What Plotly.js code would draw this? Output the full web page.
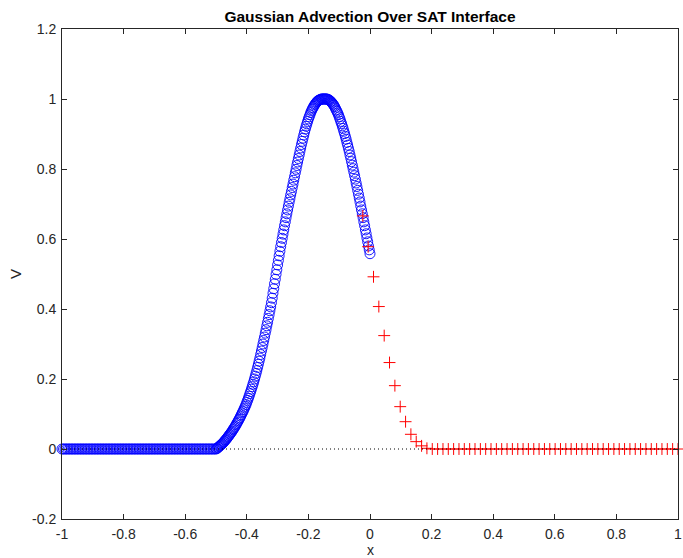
<!DOCTYPE html>
<html>
<head>
<meta charset="utf-8">
<script src="https://cdn.plot.ly/plotly-3.0.1.min.js"></script>
<style>html,body{margin:0;padding:0;background:#fff;}#chart{width:683px;height:558px;}</style>
</head>
<body>
<div id="chart"></div>
<script>
// Blue circles (left subdomain)
var blueX = [
-1,-0.995,-0.99,-0.985,-0.98,-0.975,-0.97,-0.965,-0.96,-0.955,
-0.95,-0.945,-0.94,-0.935,-0.93,-0.925,-0.92,-0.915,-0.91,-0.905,
-0.9,-0.895,-0.89,-0.885,-0.88,-0.875,-0.87,-0.865,-0.86,-0.855,
-0.85,-0.845,-0.84,-0.835,-0.83,-0.825,-0.82,-0.815,-0.81,-0.805,
-0.8,-0.795,-0.79,-0.785,-0.78,-0.775,-0.77,-0.765,-0.76,-0.755,
-0.75,-0.745,-0.74,-0.735,-0.73,-0.725,-0.72,-0.715,-0.71,-0.705,
-0.7,-0.695,-0.69,-0.685,-0.68,-0.675,-0.67,-0.665,-0.66,-0.655,
-0.65,-0.645,-0.64,-0.635,-0.63,-0.625,-0.62,-0.615,-0.61,-0.605,
-0.6,-0.595,-0.59,-0.585,-0.58,-0.575,-0.57,-0.565,-0.56,-0.555,
-0.55,-0.545,-0.54,-0.535,-0.53,-0.525,-0.52,-0.515,-0.51,-0.505,
-0.5,-0.4975,-0.495,-0.4925,-0.49,-0.4875,-0.485,-0.4825,-0.48,-0.4775,
-0.475,-0.4725,-0.47,-0.4675,-0.465,-0.4625,-0.46,-0.4575,-0.455,-0.4525,
-0.45,-0.4475,-0.445,-0.4425,-0.44,-0.4375,-0.435,-0.4325,-0.43,-0.4275,
-0.425,-0.4225,-0.42,-0.4175,-0.415,-0.4125,-0.41,-0.4075,-0.405,-0.4025,
-0.4,-0.3975,-0.395,-0.3925,-0.39,-0.3875,-0.385,-0.3825,-0.38,-0.3775,
-0.375,-0.3725,-0.37,-0.3675,-0.365,-0.3625,-0.36,-0.3575,-0.355,-0.3525,
-0.35,-0.3475,-0.345,-0.3425,-0.34,-0.3375,-0.335,-0.3325,-0.33,-0.3275,
-0.325,-0.3225,-0.32,-0.3175,-0.315,-0.3125,-0.31,-0.3075,-0.305,-0.3025,
-0.3,-0.2975,-0.295,-0.2925,-0.29,-0.2875,-0.285,-0.2825,-0.28,-0.2775,
-0.275,-0.2725,-0.27,-0.2675,-0.265,-0.2625,-0.26,-0.2575,-0.255,-0.2525,
-0.25,-0.2475,-0.245,-0.2425,-0.24,-0.2375,-0.235,-0.2325,-0.23,-0.2275,
-0.225,-0.2225,-0.22,-0.2175,-0.215,-0.2125,-0.21,-0.2075,-0.205,-0.2025,
-0.2,-0.1975,-0.195,-0.1925,-0.19,-0.1875,-0.185,-0.1825,-0.18,-0.1775,
-0.175,-0.1725,-0.17,-0.1675,-0.165,-0.1625,-0.16,-0.1575,-0.155,-0.1525,
-0.15,-0.1475,-0.145,-0.1425,-0.14,-0.1375,-0.135,-0.1325,-0.13,-0.1275,
-0.125,-0.1225,-0.12,-0.1175,-0.115,-0.1125,-0.11,-0.1075,-0.105,-0.1025,
-0.1,-0.0975,-0.095,-0.0925,-0.09,-0.0875,-0.085,-0.0825,-0.08,-0.0775,
-0.075,-0.0725,-0.07,-0.0675,-0.065,-0.0625,-0.06,-0.0575,-0.055,-0.0525,
-0.05,-0.0475,-0.045,-0.0425,-0.04,-0.0375,-0.035,-0.0325,-0.03,-0.0275,
-0.025,-0.0225,-0.02,-0.0175,-0.015,-0.0125,-0.01,-0.0075,-0.005,-0.0025,
0
];
var blueV = [
0,0,0,0,0,0,0,0,0,0,
0,0,0,0,0,0,0,0,0,0,
0,0,0,0,0,0,0,0,0,0,
0,0,0,0,0,0,0,0,0,0,
0,0,0,0,0,0,0,0,0,0,
0,0,0,0,0,0,0,0,0,0,
0,0,0,0,0,0,0,0,0,0,
0,0,0,0,0,0,0,0,0,0,
0,0,0,0,0,0,0,0,0,0,
0,0,0,0,0,0,0,0,0,0,
0.000,0.001,0.003,0.005,0.007,0.009,0.011,0.013,0.015,0.017,
0.020,0.022,0.025,0.027,0.030,0.033,0.036,0.039,0.042,0.045,
0.048,0.051,0.055,0.058,0.062,0.065,0.069,0.073,0.077,0.081,
0.085,0.089,0.094,0.098,0.103,0.107,0.112,0.117,0.122,0.127,
0.133,0.139,0.145,0.151,0.158,0.164,0.171,0.178,0.185,0.192,
0.200,0.208,0.216,0.224,0.233,0.242,0.251,0.260,0.270,0.280,
0.290,0.300,0.310,0.320,0.331,0.341,0.352,0.362,0.373,0.384,
0.395,0.406,0.418,0.431,0.445,0.458,0.472,0.485,0.499,0.512,
0.526,0.539,0.552,0.565,0.578,0.590,0.602,0.614,0.626,0.638,
0.649,0.661,0.672,0.683,0.694,0.705,0.715,0.726,0.736,0.747,
0.757,0.768,0.778,0.789,0.799,0.810,0.820,0.830,0.840,0.850,
0.860,0.870,0.879,0.888,0.897,0.906,0.914,0.922,0.929,0.936,
0.943,0.949,0.955,0.961,0.966,0.971,0.975,0.979,0.983,0.986,
0.989,0.992,0.994,0.996,0.997,0.998,0.999,1.000,1.000,1.000,
1.000,1.000,1.000,1.000,1.000,0.999,0.998,0.997,0.995,0.993,
0.991,0.988,0.985,0.982,0.978,0.974,0.969,0.965,0.960,0.955,
0.949,0.943,0.936,0.930,0.923,0.916,0.908,0.901,0.893,0.885,
0.876,0.868,0.859,0.850,0.840,0.831,0.821,0.811,0.801,0.791,
0.781,0.771,0.760,0.750,0.739,0.728,0.717,0.706,0.694,0.683,
0.672,0.661,0.649,0.638,0.626,0.615,0.603,0.592,0.580,0.569,
0.558
];
// Red pluses (right subdomain)
var redX = [
-0.0233,-0.0060,0.0114,0.0287,0.0461,0.0634,0.0808,0.0981,0.1155,0.1328,
0.1501,0.1675,0.1848,0.2022,0.2195,0.2369,0.2542,0.2715,0.2889,0.3062,
0.3236,0.3409,0.3583,0.3756,0.3929,0.4103,0.4276,0.4450,0.4623,0.4797,
0.4970,0.5143,0.5317,0.5490,0.5664,0.5837,0.6011,0.6184,0.6357,0.6531,
0.6704,0.6878,0.7051,0.7225,0.7398,0.7571,0.7745,0.7918,0.8092,0.8265,
0.8439,0.8612,0.8785,0.8959,0.9132,0.9306,0.9479,0.9653,0.9826,1.0000
];
var redV = [
0.666,0.578,0.492,0.407,0.324,0.247,0.181,0.121,0.078,0.042,
0.021,0.009,0.002,0,0,0,0,0,0,0,
0,0,0,0,0,0,0,0,0,0,
0,0,0,0,0,0,0,0,0,0,
0,0,0,0,0,0,0,0,0,0,
0,0,0,0,0,0,0,0,0,0
];
// Reference zero line
var zeroX = [-1, 1];
var zeroV = [0, 0];

var xTicks = [-1,-0.8,-0.6,-0.4,-0.2,0,0.2,0.4,0.6,0.8,1];
var xTickText = ['-1','-0.8','-0.6','-0.4','-0.2','0','0.2','0.4','0.6','0.8','1'];
var yTicks = [-0.2,0,0.2,0.4,0.6,0.8,1,1.2];
var yTickText = ['-0.2','0','0.2','0.4','0.6','0.8','1','1.2'];
var xLabel = 'x';
var yLabel = 'V';
var chartTitle = 'Gaussian Advection Over SAT Interface';

var axisColor = '#262626';
var fontFam = '"Liberation Sans", Arial, Helvetica, sans-serif';

var traces = [
  {x: blueX, y: blueV, type: 'scatter', mode: 'markers', cliponaxis: false,
   marker: {symbol: 'circle-open', size: 10, color: '#0000ff', line: {width: 0.9, color: '#0000ff'}},
   hoverinfo: 'skip', showlegend: false},
  {x: redX, y: redV, type: 'scatter', mode: 'markers', cliponaxis: false,
   marker: {symbol: 'cross-thin-open', size: 8.5, color: '#ff0000', line: {width: 1, color: '#ff0000'}},
   hoverinfo: 'skip', showlegend: false},
  {x: zeroX, y: zeroV, type: 'scatter', mode: 'lines',
   line: {color: '#000000', width: 1, dash: '1px,3px'},
   hoverinfo: 'skip', showlegend: false}
];

var layout = {
  width: 683, height: 558,
  margin: {l: 62, r: 5, t: 29, b: 39, pad: 0},
  paper_bgcolor: '#ffffff', plot_bgcolor: '#ffffff',
  font: {family: fontFam, size: 14, color: axisColor},
  title: {text: chartTitle, x: 0.5, xref: 'paper', xanchor: 'center',
          y: 1 - 17/558, yref: 'container', yanchor: 'middle',
          font: {family: fontFam, size: 15.5, weight: 'bold', color: '#000000'}},
  xaxis: {range: [-1, 1], tickmode: 'array', tickvals: xTicks, ticktext: xTickText,
          showgrid: false, zeroline: false, showline: true, linecolor: axisColor, linewidth: 1,
          mirror: 'ticks', ticks: 'inside', ticklen: 5, tickcolor: axisColor, tickwidth: 1,
          tickfont: {family: fontFam, size: 14, color: axisColor},
          ticklabelstandoff: 2, ticklabeloverflow: 'allow',
          automargin: false},
  yaxis: {range: [-0.2, 1.2], tickmode: 'array', tickvals: yTicks, ticktext: yTickText,
          showgrid: false, zeroline: false, showline: true, linecolor: axisColor, linewidth: 1,
          mirror: 'ticks', ticks: 'inside', ticklen: 5, tickcolor: axisColor, tickwidth: 1,
          tickfont: {family: fontFam, size: 14, color: axisColor},
          ticklabelstandoff: 2, ticklabeloverflow: 'allow',
          title: {text: yLabel, font: {family: fontFam, size: 15, color: axisColor}, standoff: 6},
          automargin: false},
  annotations: [
    {text: xLabel, xref: 'paper', yref: 'paper', x: 0.5, y: -(549.5 - 519) / 490,
     xanchor: 'center', yanchor: 'middle', showarrow: false,
     font: {family: fontFam, size: 14, color: axisColor}}
  ]
};

Plotly.newPlot('chart', traces, layout, {staticPlot: true, displayModeBar: false});
</script>
</body>
</html>
